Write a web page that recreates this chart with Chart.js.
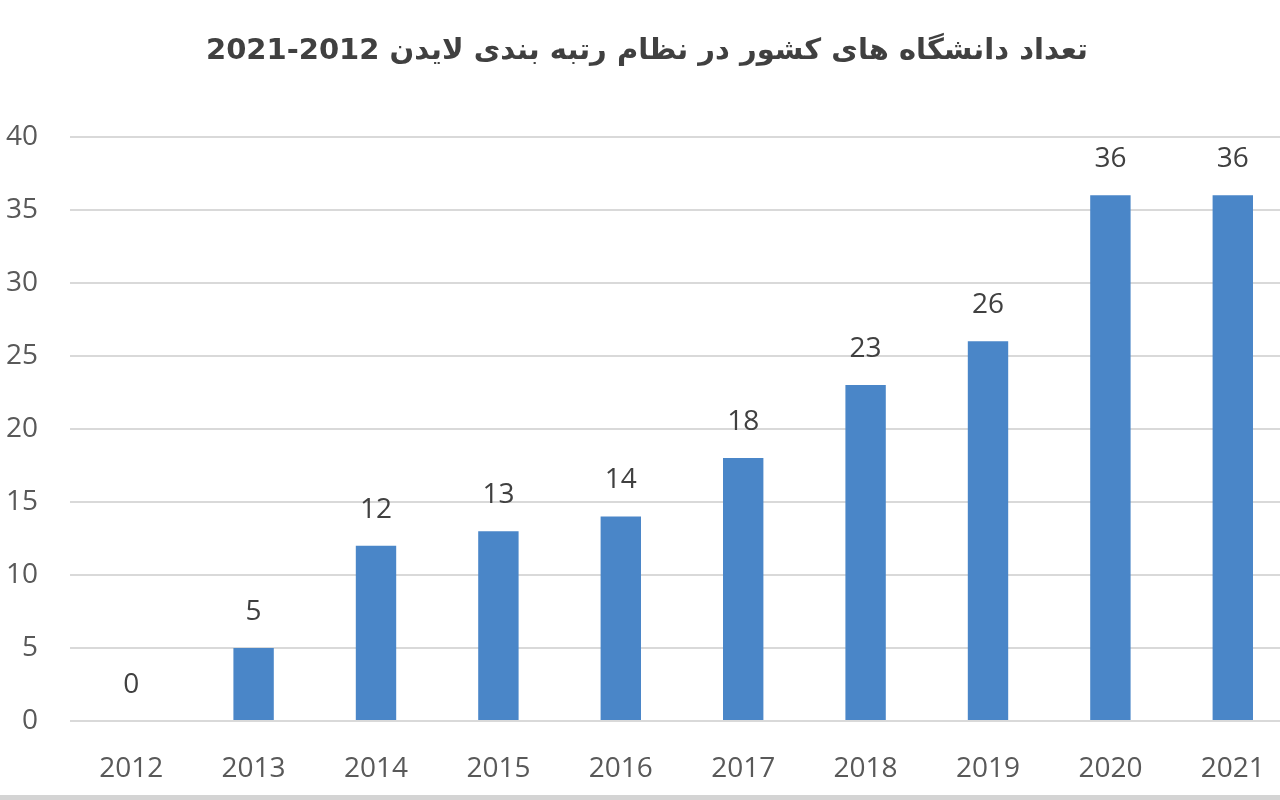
<!DOCTYPE html>
<html>
<head>
<meta charset="utf-8">
<script src="https://cdn.jsdelivr.net/npm/chart.js@4.4.1/dist/chart.umd.min.js"></script>
<style>
  body { margin: 0; overflow: hidden; background: #fff; }
  #wrap { width: 1294px; height: 795px; position: relative; }
  #band { position: absolute; left: 0; top: 795px; width: 1280px; height: 5px; background: #d4d4d4; }
</style>
</head>
<body>
<div id="wrap"><canvas id="graph"></canvas></div>
<div id="band"></div>
<script>
const titleText = "تعداد دانشگاه های کشور در نظام رتبه بندی لایدن 2012-2021";
const years = ["2012", "2013", "2014", "2015", "2016", "2017", "2018", "2019", "2020", "2021"];
const counts = [0, 5, 12, 13, 14, 18, 23, 26, 36, 36];
const yMin = 0;
const yMax = 40;
const yStep = 5;

// simple value labels above each bar
const valueLabels = {
  id: "valueLabels",
  afterDatasetsDraw(chart) {
    const ctx = chart.ctx;
    const meta = chart.getDatasetMeta(0);
    ctx.save();
    ctx.font = "28px 'Open Sans', sans-serif";
    ctx.fillStyle = "#404040";
    ctx.textAlign = "center";
    ctx.textBaseline = "middle";
    meta.data.forEach((bar, i) => {
      ctx.fillText(String(counts[i]), bar.x, bar.y - 36);
    });
    ctx.restore();
  }
};

new Chart(document.getElementById("graph"), {
  type: "bar",
  data: {
    labels: years,
    datasets: [
      {
        data: counts,
        backgroundColor: "#4a86c8",
        borderWidth: 0,
        categoryPercentage: 1,
        barPercentage: 0.33,
      },
    ],
  },
  options: {
    responsive: true,
    maintainAspectRatio: false,
    animation: false,
    layout: { padding: 0 },
    plugins: {
      legend: { display: false },
      tooltip: { enabled: false },
      title: {
        display: true,
        text: titleText,
        color: "#404040",
        font: { family: "'DejaVu Sans', sans-serif", size: 29, weight: "bold" },
        padding: { top: 34, bottom: 68 },
      },
    },
    scales: {
      y: {
        min: yMin,
        max: yMax,
        ticks: {
          stepSize: yStep,
          color: "#595959",
          padding: 32,
          font: { family: "'Open Sans', sans-serif", size: 28 },
        },
        grid: { color: "#d9d9d9", lineWidth: 2, drawTicks: false },
        border: { display: false },
        afterFit(scale) { scale.width = 70; },
      },
      x: {
        ticks: {
          color: "#595959",
          padding: 23,
          font: { family: "'Open Sans', sans-serif", size: 28 },
        },
        grid: { display: false },
        border: { display: false },
        afterFit(scale) { scale.height = 74; },
      },
    },
  },
  plugins: [valueLabels],
});
</script>
</body>
</html>
